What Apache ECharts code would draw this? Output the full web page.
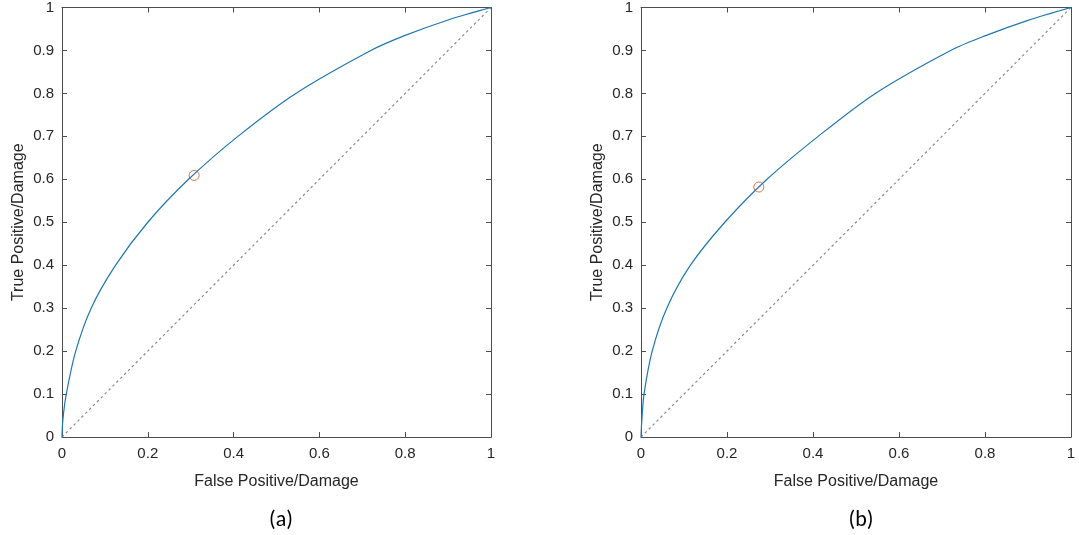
<!DOCTYPE html>
<html>
<head>
<meta charset="utf-8">
<script src="https://cdn.jsdelivr.net/npm/echarts@6/dist/echarts.min.js"></script>
<style>
html,body{margin:0;padding:0;background:#fff;}
#chart{width:1079px;height:535px;}
</style>
</head>
<body>
<div id="chart"></div>
<script>
// ---- data ----
const fprA = [0, 0.002, 0.010, 0.032, 0.068, 0.125, 0.200, 0.295, 0.410, 0.545, 0.720, 0.800, 0.900, 1];
const tprA = [0, 0.040, 0.100, 0.200, 0.300, 0.400, 0.500, 0.600, 0.700, 0.800, 0.900, 0.935, 0.971, 1];
const pointA = [0.308, 0.609];

const fprB = [0, 0.002, 0.007, 0.026, 0.060, 0.115, 0.195, 0.293, 0.412, 0.545, 0.720, 0.800, 0.900, 1];
const tprB = [0, 0.040, 0.100, 0.200, 0.300, 0.400, 0.500, 0.600, 0.700, 0.800, 0.900, 0.934, 0.970, 1];
const pointB = [0.274, 0.582];

const chanceX = [0, 1];
const chanceY = [0, 1];

const xTitle = 'False Positive/Damage';
const yTitle = 'True Positive/Damage';
const panelLabels = ['(a)', '(b)'];

// ---- chart ----
const axisColor = '#4d4d4d';
const textColor = '#262626';
const font = '"Liberation Sans", Arial, Helvetica, sans-serif';

function zip(a, b) { return a.map((v, i) => [v, b[i]]); }
function fmt(v) { return v === 0 ? '0' : v === 1 ? '1' : String(+v.toFixed(1)); }

const grids = [
  {left: 62, top: 6, width: 429, height: 431},
  {left: 641, top: 6, width: 430, height: 431}
];

const xAxes = [], yAxes = [], series = [];
grids.forEach((g, i) => {
  const common = {min: 0, max: 1, interval: 0.2, gridIndex: i,
    axisLine: {show: true, onZero: false, lineStyle: {color: axisColor, width: 1}},
    axisTick: {show: true, inside: true, length: 5, lineStyle: {color: axisColor}},
    splitLine: {show: false}};
  xAxes.push(Object.assign({}, common, {type: 'value', position: 'bottom',
    axisLabel: {color: textColor, fontSize: 15, fontFamily: font, margin: 9, formatter: fmt},
    name: xTitle, nameLocation: 'middle', nameGap: 37,
    nameTextStyle: {color: textColor, fontSize: 16, fontFamily: font}}));
  xAxes.push(Object.assign({}, common, {type: 'value', position: 'top', axisLabel: {show: false}}));
  const ycommon = Object.assign({}, common, {interval: 0.1});
  yAxes.push(Object.assign({}, ycommon, {type: 'value', position: 'left',
    axisLabel: {color: textColor, fontSize: 15, fontFamily: font, margin: 8, formatter: fmt},
    name: yTitle, nameLocation: 'middle', nameGap: 35,
    nameTextStyle: {color: textColor, fontSize: 16, fontFamily: font}}));
  yAxes.push(Object.assign({}, ycommon, {type: 'value', position: 'right', axisLabel: {show: false}}));
});

const curves = [zip(fprA, tprA), zip(fprB, tprB)];
const points = [pointA, pointB];
curves.forEach((c, i) => {
  series.push({type: 'line', xAxisIndex: 2 * i, yAxisIndex: 2 * i, data: zip(chanceX, chanceY),
    showSymbol: false, silent: true,
    lineStyle: {color: '#8a8a8a', width: 1.2, type: [2.5, 3]}});
  series.push({type: 'line', xAxisIndex: 2 * i, yAxisIndex: 2 * i, data: c,
    showSymbol: false, smooth: 0.3,
    lineStyle: {color: '#1f77b0', width: 1.2}});
  series.push({type: 'scatter', xAxisIndex: 2 * i, yAxisIndex: 2 * i, data: [points[i]],
    symbol: 'circle', symbolSize: 10,
    itemStyle: {color: 'rgba(255,255,255,0)', borderColor: '#D95319', borderWidth: 1}});
});

const chart = echarts.init(document.getElementById('chart'), null, {renderer: 'canvas'});
chart.setOption({
  backgroundColor: '#fff',
  animation: false,
  grid: grids,
  xAxis: xAxes,
  yAxis: yAxes,
  title: [
    {text: panelLabels[0], left: 276, top: 504, textAlign: 'center',
      textStyle: {fontSize: 22, fontWeight: 'normal', color: '#000', fontFamily: 'Carlito, Calibri, "Open Sans", sans-serif'}},
    {text: panelLabels[1], left: 856, top: 504, textAlign: 'center',
      textStyle: {fontSize: 22, fontWeight: 'normal', color: '#000', fontFamily: 'Carlito, Calibri, "Open Sans", sans-serif'}}
  ],
  series: series
});
</script>
</body>
</html>
